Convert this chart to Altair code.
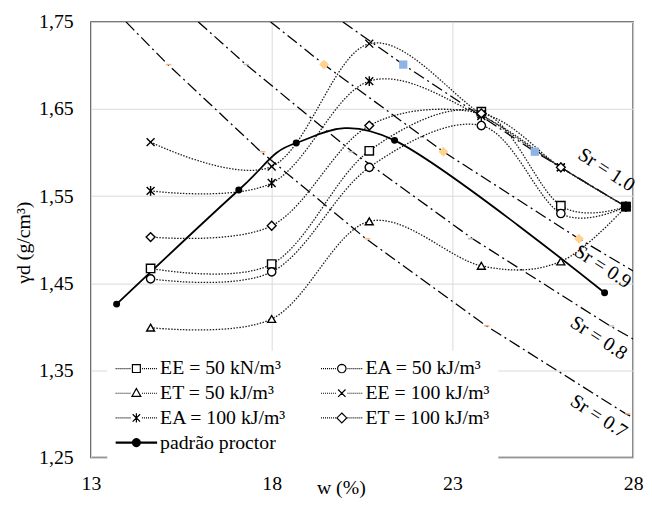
import math
import altair as alt
import pandas as pd

# ---------------- data ----------------
W_PTS = [14.65, 18.0, 20.7, 23.8, 26.0, 27.8]
SERIES = ["EE = 50 kN/m³", "EA = 50 kJ/m³", "ET = 50 kJ/m³",
          "EE = 100 kJ/m³", "EA = 100 kJ/m³", "ET = 100 kJ/m³"]
EE50 = [1.467, 1.472, 1.602, 1.647, 1.539, 1.538]
EA50 = [1.455, 1.463, 1.583, 1.631, 1.530, 1.538]
ET50 = [1.399, 1.409, 1.521, 1.470, 1.475, 1.538]
EE100 = [1.612, 1.584, 1.725, 1.644, 1.583, 1.538]
EA100 = [1.556, 1.565, 1.682, 1.642, 1.583, 1.538]
ET100 = [1.503, 1.516, 1.631, 1.645, 1.583, 1.538]
SERIES_VALUES = [EE50, EA50, ET50, EE100, EA100, ET100]

PROCTOR_NAME = "padrão proctor"
PROCTOR_W = [13.71, 17.09, 18.68, 21.40, 27.21]
PROCTOR_G = [1.426, 1.557, 1.611, 1.614, 1.439]

SR_NAMES = ["Sr = 1.0", "Sr = 0.9", "Sr = 0.8", "Sr = 0.7"]
SR10_W = [19.97, 21.64, 25.28, 27.8]
SR10_G = [1.75, 1.701, 1.601, 1.538]
SR09_W = [17.97, 19.45, 22.75, 26.5, 28.0]
SR09_G = [1.75, 1.701, 1.601, 1.501, 1.464]
SR08_W = [15.97, 17.29, 20.23, 23.56, 27.36, 28.0]
SR08_G = [1.75, 1.701, 1.601, 1.501, 1.401, 1.386]
SR07_W = [13.97, 15.13, 17.7, 20.61, 23.94, 27.8, 28.0]
SR07_G = [1.75, 1.701, 1.601, 1.501, 1.401, 1.300, 1.296]
SR_LABEL_W = [27.26, 27.16, 27.05, 27.05]
SR_LABEL_G = [1.580, 1.469, 1.387, 1.297]

ORANGE_DIAMOND_W = [19.45, 22.75, 26.5]
ORANGE_DIAMOND_G = [1.701, 1.601, 1.501]
BLUE_SQUARE_W = [21.64, 25.28]
BLUE_SQUARE_G = [1.701, 1.601]
ORANGE_DASH_W = [15.15, 17.75, 20.65, 23.95, 27.85]
ORANGE_DASH_G = [1.701, 1.601, 1.501, 1.401, 1.300]
GRAY_DASH_W = [17.3, 20.2, 23.5, 27.4]
GRAY_DASH_G = [1.701, 1.601, 1.501, 1.401]
BLACK_SQUARE_W = [27.8]
BLACK_SQUARE_G = [1.538]

X_TICKS = [13, 18, 23, 28]
Y_TICKS = [1.25, 1.35, 1.45, 1.55, 1.65, 1.75]

FONT = "Liberation Serif"

# ---------------- tables ----------------
series_df = pd.DataFrame(
    [{"serie": s, "w": w, "g": g}
     for s, vals in zip(SERIES, SERIES_VALUES) for w, g in zip(W_PTS, vals)]
)
proctor_df = pd.DataFrame({"w": PROCTOR_W, "g": PROCTOR_G})
sr_df = pd.DataFrame(
    [{"sr": n, "w": w, "g": g}
     for n, ws, gs in zip(SR_NAMES, [SR10_W, SR09_W, SR08_W, SR07_W],
                          [SR10_G, SR09_G, SR08_G, SR07_G])
     for w, g in zip(ws, gs)]
)
sr_lab_df = pd.DataFrame({"label": SR_NAMES, "w": SR_LABEL_W, "g": SR_LABEL_G})

X = alt.X("w:Q", scale=alt.Scale(domain=[13, 28], nice=False, zero=False),
          axis=alt.Axis(title="w (%)", values=X_TICKS, format="d", labelFlush=False,
                        grid=True, gridColor="#D9D9D9", domain=False, ticks=False, tickSize=0,
                        labelPadding=16, titleX=253, titleY=37, titleAlign="center",
                        titleBaseline="alphabetic"))
Y = alt.Y("g:Q", scale=alt.Scale(domain=[1.25, 1.75], nice=False, zero=False),
          axis=alt.Axis(title="γd (g/cm³)", values=Y_TICKS,
                        labelExpr="replace(format(datum.value, '.2f'), '.', ',')",
                        grid=True, gridColor="#D9D9D9", domain=False, ticks=False, tickSize=0,
                        labelPadding=18, titleX=-62, titleY=223, titleAngle=270,
                        titleAlign="center", titleBaseline="alphabetic"))

layers = []

# saturation lines
layers.append(alt.Chart(sr_df).mark_line(color="black", strokeWidth=1.3,
                                         strokeDash=[12, 4, 2, 4], clip=True)
              .encode(x=X, y=Y, detail="sr:N"))

# dotted compaction curves
layers.append(alt.Chart(series_df).mark_line(interpolate="cardinal", color="#1a1a1a",
                                             strokeWidth=1.3, strokeDash=[1.5, 1.5], clip=True)
              .encode(x=X, y=Y, detail="serie:N"))

# proctor curve
layers.append(alt.Chart(proctor_df).mark_line(interpolate="cardinal", color="black",
                                              strokeWidth=1.8)
              .encode(x=X, y=Y))
layers.append(alt.Chart(proctor_df).mark_circle(size=50, color="black", opacity=1)
              .encode(x=X, y=Y))

# markers
X_PATH = "M-1,-1L1,1M-1,1L1,-1"
AST_PATH = "M-1,-1L1,1M-1,1L1,-1M0,-1.25L0,1.25"
MARKER_SHAPES = [("square", 72), ("circle", 70), ("triangle-up", 64),
                 (X_PATH, 64), (AST_PATH, 64), ("diamond", 80)]
for s, (shp, sz) in zip(SERIES, MARKER_SHAPES):
    layers.append(alt.Chart(series_df).transform_filter(alt.datum.serie == s)
                  .mark_point(shape=shp, size=sz, filled=True, fill="white", stroke="black",
                              strokeWidth=1.4, opacity=1)
                  .encode(x=X, y=Y))

# coloured markers on saturation lines
def pts(ws, gs):
    return pd.DataFrame({"w": ws, "g": gs})

layers.append(alt.Chart(pts(ORANGE_DASH_W, ORANGE_DASH_G))
              .mark_point(shape="stroke", size=30, stroke="#F4B183", strokeWidth=1.5, opacity=1)
              .encode(x=X, y=Y))
layers.append(alt.Chart(pts(GRAY_DASH_W, GRAY_DASH_G))
              .mark_point(shape="stroke", size=30, stroke="#BFBFBF", strokeWidth=1.5, opacity=1)
              .encode(x=X, y=Y))
layers.append(alt.Chart(pts(ORANGE_DIAMOND_W, ORANGE_DIAMOND_G))
              .mark_point(shape="diamond", size=100, filled=True, color="#FFD28F", opacity=1)
              .encode(x=X, y=Y))
layers.append(alt.Chart(pts(BLUE_SQUARE_W, BLUE_SQUARE_G))
              .mark_point(shape="square", size=70, filled=True, color="#8EB4E3", opacity=1)
              .encode(x=X, y=Y))
layers.append(alt.Chart(pts(BLACK_SQUARE_W, BLACK_SQUARE_G))
              .mark_point(shape="square", size=90, filled=True, color="black", opacity=1)
              .encode(x=X, y=Y))

# Sr labels
layers.append(alt.Chart(sr_lab_df).mark_text(angle=33, font=FONT, fontSize=20, color="black",
                                             align="center", baseline="middle")
              .encode(x=X, y=Y, text="label:N"))

# ---------------- legend (symbols: dotted line + marker) ----------------
def dotted(a, b, step=0.4, ln=0.2):
    out, x = [], a
    while x + ln <= b + 1e-9:
        out.append(f"M{x:.2f},0L{x + ln:.2f},0")
        x += step
    return "".join(out)

def poly_circle(r, n=20):
    p = []
    for i in range(n):
        a = 2 * math.pi * i / n
        p.append(("M" if i == 0 else "L") + f"{r * math.cos(a):.3f},{r * math.sin(a):.3f}")
    return "".join(p) + "Z"

DOTS = dotted(-4.2, -1.15) + dotted(1.15, 4.2)
LEG_MARKERS = [
    "M-0.8,-0.8L0.8,-0.8L0.8,0.8L-0.8,0.8Z",
    poly_circle(0.85),
    "M0,-0.95L0.9,0.65L-0.9,0.65Z",
    "M-0.75,-0.75L0.75,0.75M-0.75,0.75L0.75,-0.75",
    "M-0.75,-0.75L0.75,0.75M-0.75,0.75L0.75,-0.75M0,-0.95L0,0.95",
    "M0,-1L1,0L0,1L-1,0Z",
]
DOT_FILLED = "".join(poly_circle(r) for r in (0.8, 0.6, 0.4, 0.2))
LEG_NAMES = SERIES + [PROCTOR_NAME]
LEG_PATHS = [DOTS + m for m in LEG_MARKERS] + \
    ["M-4.2,-0.12L4.2,-0.12M-4.2,0.12L4.2,0.12" + DOT_FILLED]

leg = alt.Legend(title=None, orient="none", legendX=16.5, legendY=333, columns=2,
                 direction="horizontal",
                 columnPadding=32, rowPadding=5, symbolSize=100, symbolOffset=11.5,
                 symbolStrokeWidth=1.2, symbolStrokeColor="black",
                 labelFont=FONT, labelFontSize=20, labelColor="black", labelOffset=14,
                 labelLimit=400, fillColor="white", padding=8)

legend_df = pd.DataFrame({"serie": LEG_NAMES, "w": [20.0] * 7, "g": [1.5] * 7})
layers.append(alt.Chart(legend_df).transform_filter("false")
              .mark_point(filled=False, color="black", strokeWidth=1.2, opacity=1)
              .encode(x=X, y=Y,
                      shape=alt.Shape("serie:N", scale=alt.Scale(domain=LEG_NAMES, range=LEG_PATHS),
                                      legend=leg)))

chart = (alt.layer(*layers)
         .properties(width=549, height=441,
                     autosize=alt.AutoSizeParams(type="none"),
                     padding={"left": 84, "top": 11, "right": 11, "bottom": 38})
         .configure(font=FONT)
         .configure_view(stroke="#404040", strokeWidth=1.5)
         .configure_axis(labelFont=FONT, labelFontSize=20, labelColor="black",
                         titleFont=FONT, titleFontSize=20, titleFontWeight="normal",
                         titleColor="black"))

chart.save("out.html", embed_options={"renderer": "svg", "actions": False})
